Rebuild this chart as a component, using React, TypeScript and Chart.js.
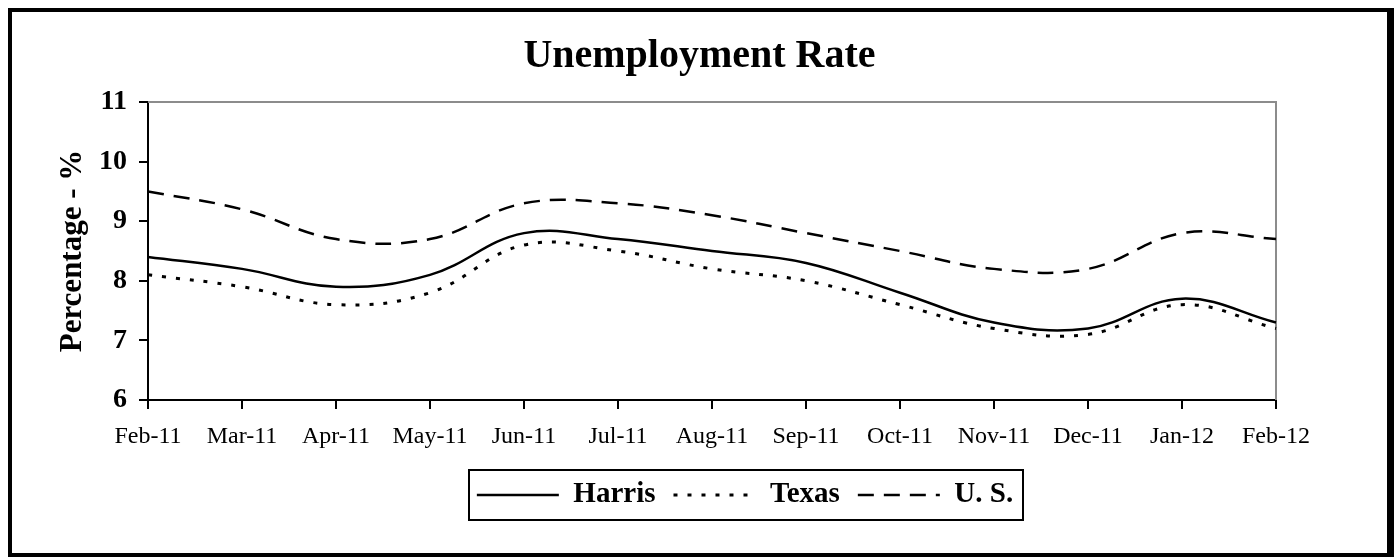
import React, { useEffect, useRef } from "react";
import { Chart, registerables } from "chart.js";

Chart.register(...registerables);

const months = ["Feb-11", "Mar-11", "Apr-11", "May-11", "Jun-11", "Jul-11", "Aug-11", "Sep-11", "Oct-11", "Nov-11", "Dec-11", "Jan-12", "Feb-12"];
const harris = [8.4, 8.2, 7.9, 8.1, 8.8, 8.7, 8.5, 8.3, 7.8, 7.3, 7.2, 7.7, 7.3];
const texas = [8.1, 7.9, 7.6, 7.8, 8.6, 8.5, 8.2, 8.0, 7.6, 7.2, 7.1, 7.6, 7.2];
const us = [9.5, 9.2, 8.7, 8.7, 9.3, 9.3, 9.1, 8.8, 8.5, 8.2, 8.2, 8.8, 8.7];
const seriesNames = ["Harris", "Texas", "U. S."];
const yMin = 6;
const yMax = 11;

const FONT = "'Liberation Serif', 'Times New Roman', serif";
const LEGEND_CENTER_X = 733;

const frameAndLegendBox = {
  id: "frameAndLegendBox",
  afterUpdate(chart: any) {
    const legend = chart.legend;
    if (!legend || !legend.legendHitBoxes || !legend.legendHitBoxes.length) return;
    const boxes = legend.legendHitBoxes;
    let l = Infinity, r = -Infinity;
    boxes.forEach((h: any) => {
      l = Math.min(l, h.left);
      r = Math.max(r, h.left + h.width);
    });
    const shift = LEGEND_CENTER_X - (l + r) / 2;
    legend.left += shift;
    legend.right += shift;
    boxes.forEach((h: any) => {
      h.left += shift;
    });
  },
  beforeDatasetsDraw(chart: any) {
    const { ctx, chartArea } = chart;
    ctx.save();
    ctx.strokeStyle = "#8c8c8c";
    ctx.lineWidth = 2;
    ctx.beginPath();
    ctx.moveTo(chartArea.left, chartArea.top);
    ctx.lineTo(chartArea.right, chartArea.top);
    ctx.lineTo(chartArea.right, chartArea.bottom);
    ctx.stroke();
    ctx.restore();
  },
  afterDraw(chart: any) {
    const legend = chart.legend;
    if (!legend || !legend.legendHitBoxes || !legend.legendHitBoxes.length) return;
    const boxes = legend.legendHitBoxes;
    let l = Infinity, r = -Infinity, t = Infinity, b = -Infinity;
    boxes.forEach((h: any) => {
      l = Math.min(l, h.left);
      r = Math.max(r, h.left + h.width);
      t = Math.min(t, h.top);
      b = Math.max(b, h.top + h.height);
    });
    const cy = (t + b) / 2;
    const { ctx } = chart;
    ctx.save();
    ctx.strokeStyle = "#000";
    ctx.lineWidth = 2;
    ctx.strokeRect(Math.round(l - 8), Math.round(cy - 25), Math.round(r + 10 - (l - 8)), 50);
    ctx.restore();
  },
};

export default function App() {
  const ref = useRef<HTMLCanvasElement | null>(null);

  useEffect(() => {
    if (!ref.current) return;
    Chart.defaults.font.family = FONT;
    Chart.defaults.color = "#000";
    const common = {
      borderColor: "#000",
      backgroundColor: "#000",
      pointRadius: 0,
      pointHoverRadius: 0,
      tension: 0.4,
      fill: false,
      yAxisID: "y",
    };
    const chart = new Chart(ref.current, {
      type: "line",
      data: {
        labels: months,
        datasets: [
          { ...common, label: seriesNames[0], data: harris, borderWidth: 2.5 },
          { ...common, label: seriesNames[1], data: texas, borderWidth: 3, borderDash: [4, 10] },
          { ...common, label: seriesNames[2], data: us, borderWidth: 2.5, borderDash: [16, 10] },
        ],
      },
      options: {
        animation: false,
        responsive: false,
        maintainAspectRatio: false,
        layout: { padding: { left: 0, right: 0, top: 0, bottom: 33.5 } },
        plugins: {
          tooltip: { enabled: false },
          title: {
            display: true,
            text: "Unemployment Rate",
            color: "#000",
            font: { family: FONT, size: 40, weight: "bold" },
            padding: { top: 21, bottom: 21 },
          },
          legend: {
            display: true,
            position: "bottom",
            labels: {
              color: "#000",
              font: { family: FONT, size: 29, weight: "bold" },
              usePointStyle: true,
              pointStyle: "line",
              pointStyleWidth: 82,
              padding: 18,
              generateLabels: (c: any) => {
                const items = Chart.defaults.plugins.legend.labels.generateLabels(c);
                items.forEach((it: any) => {
                  const ds: any = c.data.datasets[it.datasetIndex];
                  it.lineDash = ds.borderDash || [];
                  it.lineWidth = ds.borderWidth;
                  it.strokeStyle = "#000";
                  it.lineCap = "butt";
                });
                return items;
              },
            },
          },
        },
        scales: {
          x: {
            type: "category",
            offset: false,
            afterFit: (s: any) => {
              s.height = 62.5;
            },
            grid: {
              display: true,
              drawOnChartArea: false,
              drawTicks: true,
              tickLength: 9,
              color: "#000",
              lineWidth: 2,
              offset: false,
            },
            border: { display: true, color: "#000", width: 2 },
            ticks: {
              color: "#000",
              font: { family: FONT, size: 24 },
              padding: 13,
              maxRotation: 0,
              autoSkip: false,
            },
          },
          y: {
            position: "left",
            min: yMin,
            max: yMax,
            afterFit: (s: any) => {
              s.width = 136;
            },
            grid: {
              display: true,
              drawOnChartArea: false,
              drawTicks: true,
              tickLength: 9,
              color: "#000",
              lineWidth: 2,
            },
            border: { display: true, color: "#000", width: 2 },
            ticks: {
              stepSize: 1,
              color: "#000",
              font: { family: FONT, size: 28, weight: "bold" },
              padding: 12,
            },
            title: {
              display: true,
              text: "Percentage - %",
              color: "#000",
              font: { family: FONT, size: 31, weight: "bold" },
              padding: { top: 42, bottom: 0 },
            },
          },
          ySpacer: {
            position: "right",
            min: 0,
            max: 1,
            afterFit: (s: any) => {
              s.width = 111;
            },
            grid: { display: false, drawTicks: false },
            border: { display: false },
            ticks: { display: false },
          },
        },
      },
      plugins: [frameAndLegendBox],
    });
    return () => chart.destroy();
  }, []);

  return (
    <div
      style={{
        position: "fixed",
        left: 8,
        top: 8,
        width: 1386,
        height: 549,
        boxSizing: "border-box",
        borderLeft: "4px solid #000",
        borderTop: "4px solid #000",
        borderRight: "7px solid #000",
        borderBottom: "4px solid #000",
        background: "#fff",
      }}
    >
      <canvas ref={ref} width={1375} height={541} style={{ display: "block", width: 1375, height: 541 }} />
    </div>
  );
}
